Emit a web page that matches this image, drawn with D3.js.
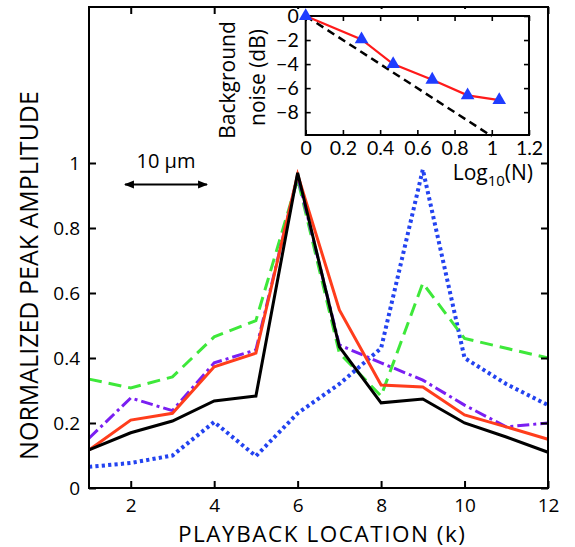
<!DOCTYPE html>
<html>
<head>
<meta charset="utf-8">
<script src="https://cdn.jsdelivr.net/npm/d3@7/dist/d3.min.js"></script>
<style>
  html, body { margin: 0; padding: 0; background: #fff; }
  svg { display: block; font-family: "Open Sans", sans-serif; }
</style>
</head>
<body>
<svg id="chart" width="575" height="547"></svg>
<script>
// ---------- data ----------
const playback = [1, 2, 3, 4, 5, 6, 7, 8, 9, 10, 11, 12];
const blackSeries  = [0.117, 0.170, 0.206, 0.268, 0.283, 0.970, 0.434, 0.262, 0.274, 0.200, 0.157, 0.110];
const redSeries    = [0.117, 0.209, 0.230, 0.373, 0.415, 0.965, 0.548, 0.317, 0.311, 0.225, 0.188, 0.150];
const greenSeries  = [0.335, 0.308, 0.342, 0.465, 0.515, 0.950, 0.415, 0.283, 0.630, 0.460, 0.430, 0.400];
const purpleSeries = [0.153, 0.277, 0.238, 0.385, 0.425, 0.960, 0.440, 0.385, 0.332, 0.255, 0.188, 0.200];
const blueSeries   = [0.065, 0.077, 0.100, 0.203, 0.098, 0.230, 0.320, 0.430, 0.980, 0.400, 0.320, 0.255];
const xTicks = [2, 4, 6, 8, 10, 12];
const yTicks = [0, 0.2, 0.4, 0.6, 0.8, 1];

// inset: background noise vs log10(N)
const insetLogN  = [0, 0.30, 0.47, 0.68, 0.87, 1.04];
const insetNoise = [0, -1.95, -4.0, -5.3, -6.6, -7.0];
const idealLogN  = [0, 1.0];
const idealNoise = [0, -10];
const insetXTicks = [0, 0.2, 0.4, 0.6, 0.8, 1, 1.2];
const insetYTicks = [0, -2, -4, -6, -8];

// ---------- layout ----------
const svg = d3.select("#chart");
const M = { left: 89, right: 548, top: 7, bottom: 488 };
const x = d3.scaleLinear().domain([1, 12]).range([M.left, M.right]);
const y = d3.scaleLinear().domain([0, 1.48]).range([M.bottom, M.top]);

const fmtMain = d => d === 0 ? "0" : (Number.isInteger(d) ? String(d) : d.toString());

// series lines
const line = d3.line().x((d, i) => x(playback[i])).y(d => y(d));
const seriesDefs = [
  { data: blueSeries,   color: "#2343f0", width: 4,   dash: "3.2,3.2" },
  { data: greenSeries,  color: "#3ee83a", width: 3,   dash: "13,7" },
  { data: purpleSeries, color: "#7a1ff2", width: 3,   dash: "12,4,3,4" },
  { data: redSeries,    color: "#ff3d1c", width: 3,   dash: null },
  { data: blackSeries,  color: "#000000", width: 3,   dash: null }
];
const gLines = svg.append("g");
seriesDefs.forEach(s => {
  gLines.append("path")
    .attr("d", line(s.data))
    .attr("fill", "none")
    .attr("stroke", s.color)
    .attr("stroke-width", s.width)
    .attr("stroke-dasharray", s.dash)
    .attr("stroke-linejoin", "miter");
});

// main axes
const axB = svg.append("g").attr("transform", `translate(0,${M.bottom})`)
  .call(d3.axisBottom(x).tickValues(xTicks).tickSize(-7).tickPadding(11).tickFormat(d3.format("d")));
const axL = svg.append("g").attr("transform", `translate(${M.left},0)`)
  .call(d3.axisLeft(y).tickValues(yTicks).tickSize(-7).tickPadding(9).tickFormat(fmtMain));
const axT = svg.append("g").attr("transform", `translate(0,${M.top})`)
  .call(d3.axisTop(x).tickValues(xTicks).tickSize(-7).tickFormat(""));
const axR = svg.append("g").attr("transform", `translate(${M.right},0)`)
  .call(d3.axisRight(y).tickValues(yTicks).tickSize(-7).tickFormat(""));
[axB, axL, axT, axR].forEach(a => {
  a.select(".domain").remove();
  a.selectAll(".tick line").attr("stroke", "#000").attr("stroke-width", 2);
  a.selectAll("text").attr("font-size", 19).attr("fill", "#000").attr("font-family", "'Open Sans', sans-serif");
});

// frame
svg.append("rect")
  .attr("x", M.left).attr("y", M.top)
  .attr("width", M.right - M.left).attr("height", M.bottom - M.top)
  .attr("fill", "none").attr("stroke", "#000").attr("stroke-width", 2);

// axis titles
svg.append("text")
  .attr("x", 321.5).attr("y", 541.5)
  .attr("text-anchor", "middle").attr("font-size", 22.5)
  .attr("textLength", 287).attr("lengthAdjust", "spacing")
  .text("PLAYBACK LOCATION (k)");
svg.append("text")
  .attr("transform", "translate(37.5,275.5) rotate(-90)")
  .attr("text-anchor", "middle").attr("font-size", 25)
  .text("NORMALIZED PEAK AMPLITUDE");

// scale bar
svg.append("text")
  .attr("x", 166).attr("y", 168)
  .attr("text-anchor", "middle").attr("font-size", 20)
  .text("10 \u00B5m");
const defs = svg.append("defs");
defs.append("marker").attr("id", "arr").attr("viewBox", "0 0 10 10")
  .attr("refX", 9).attr("refY", 5).attr("markerWidth", 4.5).attr("markerHeight", 4.5)
  .attr("orient", "auto-start-reverse").attr("markerUnits", "strokeWidth")
  .append("path").attr("d", "M0,1 L10,5 L0,9 Z").attr("fill", "#000");
svg.append("line")
  .attr("x1", 125).attr("x2", 207).attr("y1", 184.5).attr("y2", 184.5)
  .attr("stroke", "#000").attr("stroke-width", 2.2)
  .attr("marker-start", "url(#arr)").attr("marker-end", "url(#arr)");

// ---------- inset ----------
const IM = { left: 305.7, right: 529, top: 16, bottom: 135 };
// white background for inset area (covers main top ticks under it)
svg.append("rect").attr("x", 228).attr("y", 9).attr("width", 318).attr("height", 146).attr("fill", "#fff");

const xi = d3.scaleLinear().domain([0, 1.2]).range([IM.left, IM.right]);
const yi = d3.scaleLinear().domain([-9.9, 0]).range([IM.bottom, IM.top]);

const iaB = svg.append("g").attr("transform", `translate(0,${IM.bottom})`)
  .call(d3.axisBottom(xi).tickValues(insetXTicks).tickSize(-5).tickPadding(6).tickFormat(d => String(d)));
const iaL = svg.append("g").attr("transform", `translate(${IM.left},0)`)
  .call(d3.axisLeft(yi).tickValues(insetYTicks).tickSize(-5).tickPadding(7).tickFormat(d => d === 0 ? "0" : "\u2212" + Math.abs(d)));
const iaT = svg.append("g").attr("transform", `translate(0,${IM.top})`)
  .call(d3.axisTop(xi).tickValues(insetXTicks).tickSize(-5).tickFormat(""));
const iaR = svg.append("g").attr("transform", `translate(${IM.right},0)`)
  .call(d3.axisRight(yi).tickValues(insetYTicks).tickSize(-5).tickFormat(""));
[iaB, iaL, iaT, iaR].forEach(a => {
  a.select(".domain").remove();
  a.selectAll(".tick line").attr("stroke", "#000").attr("stroke-width", 1.6);
  a.selectAll("text").attr("font-size", 19.5).attr("fill", "#000").attr("font-family", "Lato, sans-serif");
});
svg.append("rect")
  .attr("x", IM.left).attr("y", IM.top)
  .attr("width", IM.right - IM.left).attr("height", IM.bottom - IM.top)
  .attr("fill", "none").attr("stroke", "#000").attr("stroke-width", 2);

const lineIdeal = d3.line().x((d, i) => xi(idealLogN[i])).y(d => yi(d));
svg.append("path").attr("d", lineIdeal(idealNoise))
  .attr("fill", "none").attr("stroke", "#000").attr("stroke-width", 2.5).attr("stroke-dasharray", "8,5");

const lineMeas = d3.line().x((d, i) => xi(insetLogN[i])).y(d => yi(d));
svg.append("path").attr("d", lineMeas(insetNoise))
  .attr("fill", "none").attr("stroke", "#ff1a1a").attr("stroke-width", 2.2);

const tri = d3.symbol().type(d3.symbolTriangle).size(80);
svg.append("g").selectAll("path").data(insetNoise).join("path")
  .attr("d", tri)
  .attr("transform", (d, i) => `translate(${xi(insetLogN[i])},${yi(d)})`)
  .attr("fill", "#1f3cff");

// inset titles
svg.append("text")
  .attr("transform", "translate(235,80) rotate(-90)")
  .attr("text-anchor", "middle").attr("font-size", 21)
  .text("Background");
svg.append("text")
  .attr("transform", "translate(265,77.5) rotate(-90)")
  .attr("text-anchor", "middle").attr("font-size", 21)
  .text("noise (dB)");
const logLbl = svg.append("text")
  .attr("x", 452.7).attr("y", 180).attr("font-size", 21);
logLbl.append("tspan").text("Log");
logLbl.append("tspan").attr("font-size", 15).attr("dy", 6).text("10");
logLbl.append("tspan").attr("dy", -6).text("(N)");
</script>
</body>
</html>
